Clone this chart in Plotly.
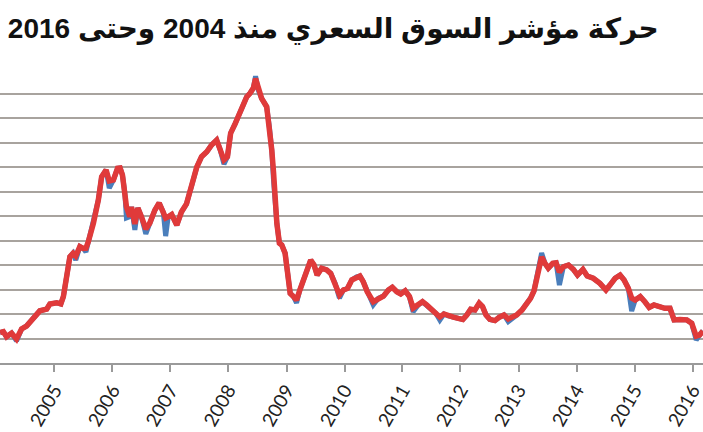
import plotly.graph_objects as go

title_text = "حركة مؤشر السوق السعري منذ 2004 وحتى 2016"

dates = [
    "2004-01-24", "2004-02-14", "2004-03-05", "2004-04-06", "2004-05-07", "2004-06-08", "2004-07-09", "2004-08-20",
    "2004-10-01", "2004-11-13", "2004-12-03", "2005-01-15", "2005-02-10", "2005-02-26", "2005-03-17", "2005-04-08",
    "2005-04-28", "2005-05-15", "2005-06-10", "2005-07-01", "2005-07-18", "2005-08-02", "2005-09-03", "2005-10-04",
    "2005-10-25", "2005-11-22", "2005-12-12", "2006-01-07", "2006-02-02", "2006-02-18", "2006-03-05", "2006-03-20",
    "2006-03-30", "2006-04-20", "2006-05-01", "2006-05-22", "2006-06-10", "2006-07-03", "2006-07-30", "2006-08-24",
    "2006-09-25", "2006-10-22", "2006-11-17", "2006-12-02", "2006-12-18", "2007-01-09", "2007-02-10", "2007-03-11",
    "2007-04-12", "2007-05-13", "2007-06-16", "2007-07-16", "2007-08-18", "2007-09-17", "2007-10-19", "2007-11-09",
    "2007-12-04", "2007-12-26", "2008-01-15", "2008-02-12", "2008-03-14", "2008-04-04", "2008-04-25", "2008-05-16",
    "2008-06-06", "2008-06-20", "2008-07-07", "2008-07-28", "2008-08-29", "2008-09-15", "2008-09-30", "2008-10-11",
    "2008-10-20", "2008-11-01", "2008-11-17", "2008-12-02", "2008-12-23", "2009-01-09", "2009-01-24", "2009-02-14",
    "2009-03-05", "2009-03-26", "2009-04-16", "2009-05-07", "2009-06-02", "2009-06-23", "2009-07-13", "2009-08-10",
    "2009-09-11", "2009-10-06", "2009-11-03", "2009-11-30", "2009-12-25", "2010-01-20", "2010-02-16", "2010-03-18",
    "2010-04-08", "2010-04-29", "2010-05-24", "2010-07-01", "2010-08-02", "2010-09-03", "2010-10-04", "2010-10-29",
    "2010-11-26", "2010-12-21", "2011-01-18", "2011-02-14", "2011-03-09", "2011-04-10", "2011-05-07", "2011-06-02",
    "2011-06-27", "2011-07-30", "2011-08-24", "2011-09-19", "2011-10-16", "2011-11-17", "2011-12-18", "2012-01-16",
    "2012-02-10", "2012-03-05", "2012-04-01", "2012-04-28", "2012-05-19", "2012-06-10", "2012-07-04", "2012-08-05",
    "2012-09-02", "2012-10-01", "2012-10-28", "2012-11-25", "2012-12-20", "2013-01-22", "2013-02-23", "2013-03-17",
    "2013-04-08", "2013-04-27", "2013-05-12", "2013-05-26", "2013-06-16", "2013-07-07", "2013-08-04", "2013-08-25",
    "2013-09-15", "2013-10-10", "2013-11-11", "2013-12-12", "2014-01-07", "2014-02-10", "2014-03-09", "2014-04-16",
    "2014-05-28", "2014-07-05", "2014-07-30", "2014-09-01", "2014-10-02", "2014-10-27", "2014-11-23", "2014-12-14",
    "2015-01-05", "2015-02-06", "2015-03-07", "2015-04-03", "2015-05-03", "2015-06-06", "2015-07-11", "2015-08-12",
    "2015-09-07", "2015-10-14", "2015-11-26", "2015-12-27", "2016-01-24", "2016-02-14", "2016-03-07",
]

index_red = [
    5240, 5280, 5070, 5220, 4980, 5390, 5510, 5840,
    6130, 6200, 6410, 6460, 6410, 6710, 7520, 8340,
    8480, 8370, 8750, 8680, 8690, 8950, 9700, 10650,
    11600, 11880, 11430, 11470, 11950, 11960, 11670, 10940,
    10380, 9970, 10370, 9670, 10330, 9960, 9470, 9710,
    10240, 10530, 10160, 9920, 9970, 10060, 9630, 10160,
    10490, 11200, 12000, 12420, 12620, 12900, 13100, 12730,
    12290, 12420, 13380, 13760, 14240, 14530, 14860, 15010,
    15220, 15610, 15140, 14800, 14460, 13640, 12690, 11800,
    10650, 9700, 8890, 8820, 8480, 7520, 6840, 6710,
    6570, 6980, 7320, 7660, 8200, 8000, 7590, 7870,
    7800, 7660, 7250, 6780, 6980, 7050, 7390, 7520,
    7550, 7320, 6910, 6500, 6640, 6730, 6980, 7090,
    6910, 6820, 6950, 6710, 6240, 6370, 6500, 6370,
    6230, 6030, 5880, 6000, 5920, 5870, 5820, 5780,
    5960, 6190, 6160, 6440, 6300, 5960, 5780, 5730,
    5870, 5960, 5800, 5870, 5960, 6160, 6440, 6640,
    6940, 7550, 8000, 8330, 8070, 7870, 8070, 8090,
    7710, 7930, 8000, 7820, 7590, 7820, 7550, 7460,
    7250, 6980, 7180, 7460, 7590, 7390, 7050, 6650,
    6570, 6710, 6500, 6270, 6370, 6300, 6230, 6230,
    5760, 5780, 5760, 5620, 5100, 5140, 5310,
]

index_blue = [
    5240, 5280, 5070, 5220, 4900, 5390, 5510, 5840,
    6130, 6200, 6410, 6460, 6410, 6710, 7520, 8340,
    8480, 8200, 8750, 8680, 8530, 8950, 9700, 10650,
    11600, 11880, 11140, 11470, 11950, 11960, 11670, 10940,
    9920, 9970, 10370, 9430, 10330, 9960, 9270, 9710,
    10240, 10530, 10160, 9180, 9970, 10060, 9630, 10160,
    10490, 11200, 12000, 12420, 12620, 12900, 13100, 12730,
    12120, 12420, 13380, 13760, 14240, 14530, 14860, 15010,
    15220, 15710, 15140, 14800, 14460, 13640, 12690, 11470,
    10650, 9700, 8890, 8820, 8480, 7520, 6840, 6710,
    6450, 6980, 7320, 7660, 8200, 8000, 7590, 7870,
    7800, 7660, 7250, 6650, 6980, 7050, 7390, 7520,
    7550, 7320, 6910, 6370, 6640, 6730, 6980, 7090,
    6910, 6820, 6950, 6710, 6090, 6370, 6500, 6370,
    6230, 6030, 5750, 6000, 5920, 5870, 5820, 5780,
    5960, 6190, 6160, 6440, 6300, 5960, 5780, 5730,
    5870, 5960, 5690, 5870, 5960, 6160, 6440, 6640,
    6940, 7550, 8000, 8490, 8070, 7870, 8070, 8090,
    7180, 7930, 8000, 7820, 7590, 7820, 7550, 7460,
    7250, 6980, 7180, 7460, 7590, 7390, 7050, 6120,
    6570, 6710, 6500, 6270, 6370, 6300, 6230, 6230,
    5760, 5780, 5760, 5620, 4940, 5140, 5310,
]

fig = go.Figure()
fig.add_trace(go.Scatter(x=dates, y=index_blue, mode="lines",
                         line=dict(color="#4A7EBB", width=5), showlegend=False))
fig.add_trace(go.Scatter(x=dates, y=index_red, mode="lines",
                         line=dict(color="#E03A3A", width=5.5), showlegend=False))

fig.update_layout(
    width=703, height=432,
    margin=dict(l=0, r=0, t=69, b=69),
    paper_bgcolor="white", plot_bgcolor="white",
    title=dict(text=title_text, x=0.474, xanchor="center", y=0.935, yanchor="middle",
               xref="paper", yref="container",
               font=dict(family="Arial, Liberation Sans, DejaVu Sans", size=28, color="#111111", weight="bold")),
    xaxis=dict(type="date", range=["2004-01-24", "2016-03-07"],
               tick0="2005-01-01", dtick="M12", tickformat="%Y",
               ticks="outside", ticklen=7, tickcolor="#9A9A9A", tickwidth=1.5,
               showline=True, linecolor="#9A9A9A", linewidth=1.5,
               showgrid=False, tickangle=-60, ticklabeloverflow="allow",
               tickfont=dict(family="Lato, Open Sans, sans-serif", size=19, color="#222222")),
    yaxis=dict(range=[4000, 16000], dtick=1000, showgrid=True, gridcolor="#A8A39E", gridwidth=1.5,
               showticklabels=False, zeroline=False, showline=False),
)

fig.write_html("out.html")
